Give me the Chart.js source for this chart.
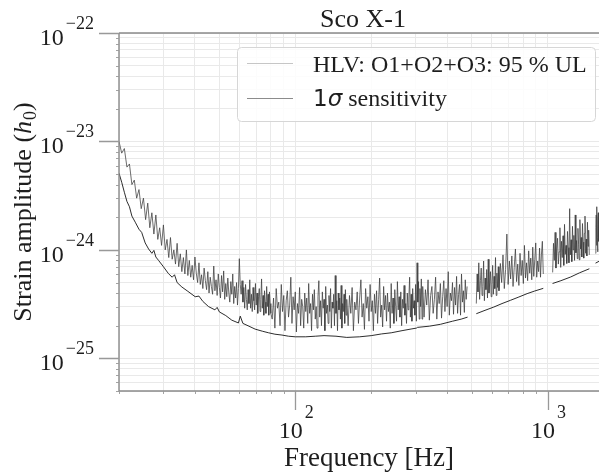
<!DOCTYPE html>
<html><head><meta charset="utf-8">
<script src="https://cdn.jsdelivr.net/npm/chart.js@4.4.1/dist/chart.umd.min.js"></script>
<style>html,body{margin:0;padding:0;background:#fff;overflow:hidden}#wrap{width:599px;height:473px}</style>
</head><body><div id="wrap"><canvas id="c" width="599" height="473"></canvas></div>
<script>
// ---- data ----
const ulFreq = [
 20,20.5,21,21.5,22,22.5,23,23.5,24,24.5,25,25.5,26,26.5,27,27.5,28,28.5,29,29.5,30,30.5,31,31.5,32,32.5,33,33.5,34,34.5,35,35.5,36,36.5,37,37.5,38,38.5,39,39.5,40,
 40.5,41,41.5,42,42.5,43,43.5,44,44.5,45,
 45.5,46,46.5,47,47.5,48,48.5,49,49.5,50,
 50.5,51,51.5,52,52.5,53,53.5,54,54.5,55,
 55.5,56,56.5,57,57.5,58,58.5,59,59.5,60,
 60.5,61,61.5,62,62.5,63,63.5,64,64.5,65,
 65.5,66,66.5,67,67.5,68,68.5,69,69.5,70,
 70.5,71,71.5,72,72.5,73,73.5,74,74.5,75,
 75.5,76,76.5,77,77.5,78,78.5,79,79.5,80,
 81,82,83,84,85,86,87,88,89,90,
 91,92,93,94,95,96,97,98,99,100,
 101,102,103,104,105,106,107,108,109,110,
 111,112,113,114,115,116,117,118,119,120,
 121,122,123,124,125,126,127,128,129,130,
 131,132,133,134,135,136,137,138,139,140,
 141,142,143,144,145,146,147,148,149,150,
 151,152,153,154,155,156,157,158,159,160,
 162,164,166,168,170,172,174,176,178,180,
 182,184,186,188,190,192,194,196,198,200,
 202,204,206,208,210,212,214,216,218,220,
 222,224,226,228,230,232,234,236,238,240,
 242,244,246,248,250,252,254,256,258,260,
 262,264,266,268,270,272,274,276,278,280,
 282,284,286,288,290,292,294,296,298,300,
 302,304,306,308,310,312,314,316,318,320,
 324,328,332,336,340,344,348,352,356,360,
 364,368,372,376,380,384,388,392,396,400,
 404,408,412,416,420,424,428,432,436,440,
 444,448,452,456,460,464,468,472,476,480,
 500,
 522,526,530,534,538,542,546,550,554,558,
 562,566,570,574,578,582,586,590,594,598,
 602,606,610,614,618,622,626,630,634,638,
 642,650,658,666,674,682,690,698,706,714,
 722,730,738,746,754,762,770,778,786,794,
 802,810,818,826,834,842,850,858,866,874,
 882,890,898,906,914,922,930,938,946,954,
 962,
 1000,
 1048,1056,1064,1072,1080,1088,1096,1104,1112,1120,
 1128,1136,1144,1152,1160,1168,1176,1184,1192,1200,
 1208,1216,1224,1232,1240,1248,1256,1264,1272,1280,
 1288,1296,1304,1312,1320,1328,1336,1344,1352,1360,
 1368,1376,1384,1392,1400,1408,1416,1424,1432,1440,
 1448,1456,1464,
 1505,
 1550,1555,1560,1565,1570,1575,1580,1585,1590,1595,1600
];
const ulVal = [
 100e-25,78e-25,86e-25,58e-25,62e-25,40e-25,44e-25,30e-25,36e-25,24e-25,30e-25,19e-25,27e-25,16e-25,22e-25,14e-25,21e-25,12.5e-25,16e-25,11e-25,17e-25,10e-25,12.5e-25,8.5e-25,13e-25,8.2e-25,10e-25,7.4e-25,11.5e-25,7e-25,9.2e-25,6.3e-25,8.5e-25,6e-25,10e-25,5.8e-25,8e-25,5.6e-25,7.2e-25,5.3e-25,8.6e-25,
 6.1e-25,5.0e-25,7.6e-25,4.8e-25,5.9e-25,4.4e-25,6.8e-25,5.2e-25,4.3e-25,6.3e-25,
 4.0e-25,5.6e-25,4.6e-25,3.9e-25,7.1e-25,4.2e-25,5.3e-25,3.8e-25,6.0e-25,4.5e-25,
 3.6e-25,5.8e-25,4.1e-25,6.4e-25,3.5e-25,4.9e-25,3.7e-25,5.5e-25,4.0e-25,3.3e-25,
 5.1e-25,3.9e-25,6.0e-25,3.2e-25,4.6e-25,3.6e-25,5.0e-25,3.1e-25,4.4e-25,8.3e-25,
 4.8e-25,3.9e-25,5.2e-25,3.3e-25,4.5e-25,2.9e-25,4.8e-25,3.5e-25,2.8e-25,4.3e-25,
 3.2e-25,5.3e-25,2.9e-25,3.9e-25,2.7e-25,4.5e-25,3.4e-25,2.8e-25,4.9e-25,3.1e-25,
 4.0e-25,2.6e-25,3.7e-25,4.4e-25,2.7e-25,3.5e-25,5.4e-25,2.9e-25,3.8e-25,2.5e-25,
 4.2e-25,3.3e-25,2.6e-25,4.6e-25,3.0e-25,3.9e-25,2.5e-25,4.1e-25,3.2e-25,2.6e-25,
 2.3e-25,3.6e-25,1.9e-25,4.4e-25,2.9e-25,3.3e-25,2.0e-25,4.8e-25,2.7e-25,3.8e-25,
 1.8e-25,3.4e-25,4.2e-25,2.4e-25,3.1e-25,5.6e-25,2.1e-25,3.7e-25,2.8e-25,4.1e-25,
 1.75e-25,3.2e-25,2.6e-25,4.5e-25,2.0e-25,3.5e-25,3.0e-25,1.9e-25,4.0e-25,2.7e-25,
 3.6e-25,2.1e-25,4.9e-25,2.6e-25,3.2e-25,1.8e-25,3.9e-25,2.8e-25,4.3e-25,2.3e-25,
 3.0e-25,1.9e-25,3.7e-25,5.2e-25,2.4e-25,3.4e-25,2.0e-25,4.1e-25,2.9e-25,3.5e-25,
 1.8e-25,4.6e-25,2.6e-25,3.1e-25,2.1e-25,3.8e-25,2.7e-25,4.4e-25,1.9e-25,3.3e-25,
 2.9e-25,3.9e-25,2.0e-25,5.8e-25,2.6e-25,3.4e-25,1.8e-25,4.0e-25,2.8e-25,3.6e-25,
 2.3e-25,4.7e-25,1.9e-25,3.2e-25,2.7e-25,3.9e-25,2.1e-25,4.3e-25,2.5e-25,3.5e-25,
 2.0e-25,3.8e-25,2.6e-25,4.5e-25,1.8e-25,3.3e-25,2.8e-25,4.1e-25,2.1e-25,3.6e-25,
 5.3e-25,2.4e-25,3.2e-25,1.85e-25,4.4e-25,2.9e-25,3.7e-25,2.2e-25,4.8e-25,2.7e-25,
 3.4e-25,1.8e-25,3.9e-25,2.6e-25,4.2e-25,2.1e-25,3.5e-25,5.5e-25,2.4e-25,3.1e-25,
 1.95e-25,4.6e-25,2.8e-25,3.8e-25,2.2e-25,4.0e-25,2.7e-25,3.3e-25,1.9e-25,4.9e-25,
 2.6e-25,3.6e-25,2.1e-25,4.3e-25,3.0e-25,2.2e-25,5.1e-25,2.8e-25,3.7e-25,2.4e-25,
 4.1e-25,2.0e-25,3.5e-25,2.9e-25,4.7e-25,2.5e-25,3.2e-25,2.1e-25,4.0e-25,2.8e-25,
 3.6e-25,5.6e-25,2.4e-25,3.9e-25,2.2e-25,4.4e-25,2.9e-25,3.4e-25,2.5e-25,4.8e-25,
 2.2e-25,7.6e-25,3.3e-25,5.1e-25,2.3e-25,4.4e-25,3.0e-25,5.4e-25,2.3e-25,4.6e-25,
 2.4e-25,4.3e-25,3.1e-25,5.3e-25,2.25e-25,3.8e-25,4.6e-25,2.6e-25,3.5e-25,5.6e-25,
 2.3e-25,4.1e-25,3.2e-25,4.9e-25,2.35e-25,3.7e-25,5.2e-25,2.7e-25,4.4e-25,3.0e-25,
 6.3e-25,2.5e-25,4.0e-25,3.4e-25,5.0e-25,2.55e-25,4.5e-25,3.1e-25,5.7e-25,2.6e-25,
 3.9e-25,4.8e-25,2.5e-25,6.0e-25,3.3e-25,4.2e-25,2.65e-25,5.3e-25,3.5e-25,4.6e-25,
 null,
 3.2e-25,6.0e-25,4.1e-25,7.6e-25,3.5e-25,5.2e-25,6.8e-25,3.8e-25,4.6e-25,7.9e-25,
 3.4e-25,5.5e-25,4.3e-25,6.6e-25,3.6e-25,8.2e-25,4.0e-25,5.0e-25,6.3e-25,3.7e-25,
 4.8e-25,7.2e-25,3.9e-25,5.7e-25,4.4e-25,8.5e-25,3.8e-25,6.1e-25,4.5e-25,7.0e-25,
 4.2e-25,7.5e-25,5.0e-25,9.0e-25,4.4e-25,6.6e-25,14.0e-25,4.8e-25,7.9e-25,5.4e-25,
 8.8e-25,4.6e-25,6.9e-25,10.2e-25,5.1e-25,7.4e-25,4.7e-25,9.3e-25,5.8e-25,8.0e-25,
 4.9e-25,11.0e-25,5.5e-25,7.6e-25,5.2e-25,9.8e-25,6.1e-25,8.4e-25,5.3e-25,10.6e-25,
 5.7e-25,8.1e-25,11.6e-25,5.6e-25,7.9e-25,6.3e-25,10.4e-25,5.6e-25,9.0e-25,12.0e-25,
 6.0e-25,
 null,
 6.2e-25,11.5e-25,8.0e-25,14.5e-25,6.8e-25,10.2e-25,12.8e-25,7.4e-25,9.6e-25,16.0e-25,
 6.9e-25,12.0e-25,8.5e-25,13.5e-25,7.2e-25,17.2e-25,9.1e-25,11.0e-25,7.5e-25,14.8e-25,
 10.5e-25,7.6e-25,24.0e-25,9.0e-25,12.4e-25,7.8e-25,16.5e-25,10.0e-25,13.6e-25,8.0e-25,
 21.0e-25,9.4e-25,12.2e-25,8.3e-25,15.8e-25,11.3e-25,8.1e-25,19.0e-25,10.2e-25,13.0e-25,
 8.6e-25,17.5e-25,11.8e-25,8.4e-25,14.2e-25,20.5e-25,9.3e-25,12.6e-25,8.8e-25,18.0e-25,
 10.8e-25,15.2e-25,9.0e-25,
 null,
 9.3e-25,16e-25,21e-25,11e-25,25e-25,13e-25,9.6e-25,19e-25,22e-25,12e-25,17e-25
];
const sensFreq = [20,20.5,21,21.5,22,22.5,23.2,24,24.6,25.4,26.2,27,27.5,28,28.7,30,31.4,32.5,33.2,34,35.5,37.5,40.1,41.5,43,45.3,48,49,50,53,56,59.5,60.5,62,65.5,69.3,74,78.4,83,88.5,94,100,110,120,130,145,160,180,200,220,240,265,290,302,305,340,376,420,455,482,500,522,560,612,660,713,770,830,890,962,1000,1047,1130,1234,1340,1465,1505,1550,1600];
const sensVal = [51e-25,42e-25,34e-25,28e-25,25e-25,20.5e-25,18e-25,15.5e-25,14.5e-25,11.6e-25,10.2e-25,9.3e-25,9.9e-25,8.6e-25,8.0e-25,7.0e-25,6.05e-25,5.6e-25,5.9e-25,5.0e-25,4.55e-25,4.15e-25,3.7e-25,3.75e-25,3.35e-25,3.0e-25,2.8e-25,2.95e-25,2.68e-25,2.48e-25,2.25e-25,2.12e-25,2.45e-25,2.1e-25,1.98e-25,1.86e-25,1.78e-25,1.72e-25,1.67e-25,1.64e-25,1.6e-25,1.58e-25,1.58e-25,1.6e-25,1.62e-25,1.6e-25,1.56e-25,1.58e-25,1.62e-25,1.68e-25,1.72e-25,1.8e-25,1.87e-25,1.9e-25,1.93e-25,1.98e-25,2.06e-25,2.2e-25,2.3e-25,2.4e-25,null,2.58e-25,2.75e-25,2.97e-25,3.2e-25,3.43e-25,3.68e-25,3.95e-25,4.18e-25,4.42e-25,null,4.9e-25,5.2e-25,5.62e-25,6.15e-25,6.7e-25,null,7.55e-25,7.85e-25];

const seriesLabels = ['HLV: O1+O2+O3: 95 % UL', '1\u03c3 sensitivity'];
const titleText = 'Sco X-1';
const xTitle = 'Frequency [Hz]';
const yTitle = ['Strain amplitude (', 'h', '0', ')'];
const xMajor = [100, 1000];
const xMajorExp = ['2', '3'];
const xMinor = [20,30,40,50,60,70,80,90,200,300,400,500,600,700,800,900];
const yMajor = [1e-25, 1e-24, 1e-23, 1e-22];
const yMajorExp = ['\u221225', '\u221224', '\u221223', '\u221222'];
const yMinor = [5e-26,6e-26,7e-26,8e-26,9e-26,2e-25,3e-25,4e-25,5e-25,6e-25,7e-25,8e-25,9e-25,2e-24,3e-24,4e-24,5e-24,6e-24,7e-24,8e-24,9e-24,2e-23,3e-23,4e-23,5e-23,6e-23,7e-23,8e-23,9e-23];

// ---- style ----
const SERIF = '"Liberation Serif", "DejaVu Serif", serif';
const SANS = '"DejaVu Sans", sans-serif';
const TXT = '#1e1e1e';
const AXIS = '#8a8a8a';
const GRID = '#e9e9e9';
const legendColors = ['#c6c6c6', '#8c8c8c'];

function pts(fs, vs) { return fs.map((f, i) => ({x: f, y: vs[i]})); }

function powLabel(ctx, exp, x, py, align, baseOff, expOff) {
  ctx.font = '24px ' + SERIF;
  const w1 = ctx.measureText('10').width;
  ctx.font = '18px ' + SERIF;
  const w2 = ctx.measureText(exp).width;
  const total = w1 + w2 + 2;
  let x0 = align === 'right' ? x - total : x - total / 2;
  ctx.textAlign = 'left';
  ctx.font = '24px ' + SERIF;
  ctx.fillText('10', x0, py + baseOff);
  ctx.font = '18px ' + SERIF;
  ctx.fillText(exp, x0 + w1 + 2, py + expOff);
}

const deco = {
  id: 'deco',
  afterDraw(chart) {
    const {ctx, chartArea: a, scales: {x, y}} = chart;
    ctx.save();
    // frame
    ctx.strokeStyle = AXIS; ctx.lineWidth = 1.4;
    ctx.beginPath();
    ctx.moveTo(a.left, a.top); ctx.lineTo(a.right, a.top);
    ctx.moveTo(a.left, a.top); ctx.lineTo(a.left, a.bottom); ctx.lineTo(a.right, a.bottom);
    ctx.stroke();
    // ticks
    ctx.strokeStyle = '#999'; ctx.lineWidth = 1.3;
    ctx.beginPath();
    yMajor.forEach(v => { const p = Math.round(y.getPixelForValue(v)) + 0.5; ctx.moveTo(a.left - 20, p); ctx.lineTo(a.left, p); });
    xMajor.forEach(v => { const p = Math.round(x.getPixelForValue(v)) + 0.5; ctx.moveTo(p, a.bottom); ctx.lineTo(p, a.bottom + 19); });
    ctx.stroke();
    ctx.lineWidth = 0.9;
    ctx.beginPath();
    yMinor.forEach(v => { const p = Math.round(y.getPixelForValue(v)) + 0.5; ctx.moveTo(a.left - 3, p); ctx.lineTo(a.left, p); });
    xMinor.forEach(v => { const p = Math.round(x.getPixelForValue(v)) + 0.5; ctx.moveTo(p, a.bottom); ctx.lineTo(p, a.bottom + 3); });
    ctx.stroke();
    // tick labels
    ctx.fillStyle = TXT; ctx.textBaseline = 'alphabetic';
    yMajor.forEach((v, i) => powLabel(ctx, yMajorExp[i], a.left - 25, y.getPixelForValue(v), 'right', 12, -4));
    xMajor.forEach((v, i) => powLabel(ctx, xMajorExp[i], x.getPixelForValue(v) + 1, a.bottom, 'center', 47, 27));
    // title
    ctx.font = '26px ' + SERIF; ctx.textAlign = 'center';
    ctx.fillText(titleText, 363, 27);
    // x title
    ctx.font = '27px ' + SERIF;
    ctx.fillText(xTitle, 369, 466);
    // y title (rotated)
    ctx.save();
    ctx.translate(31, 212); ctx.rotate(-Math.PI / 2);
    ctx.textAlign = 'left';
    const fR = '26px ' + SERIF, fI = 'italic 26px ' + SERIF, fS = '18px ' + SERIF;
    ctx.font = fR; const w0 = ctx.measureText(yTitle[0]).width;
    ctx.font = fI; const w1 = ctx.measureText(yTitle[1]).width;
    ctx.font = fS; const w2 = ctx.measureText(yTitle[2]).width;
    ctx.font = fR; const w3 = ctx.measureText(yTitle[3]).width;
    let cx = -(w0 + w1 + w2 + w3 + 1) / 2;
    ctx.font = fR; ctx.fillText(yTitle[0], cx, 0); cx += w0;
    ctx.font = fI; ctx.fillText(yTitle[1], cx, 0); cx += w1 + 1;
    ctx.font = fS; ctx.fillText(yTitle[2], cx, 5); cx += w2;
    ctx.font = fR; ctx.fillText(yTitle[3], cx, 0);
    ctx.restore();
    // legend
    const bx = 237.5, by = 47.5, bw = 358, bh = 74, r = 4;
    ctx.beginPath();
    ctx.moveTo(bx + r, by); ctx.lineTo(bx + bw - r, by); ctx.arcTo(bx + bw, by, bx + bw, by + r, r);
    ctx.lineTo(bx + bw, by + bh - r); ctx.arcTo(bx + bw, by + bh, bx + bw - r, by + bh, r);
    ctx.lineTo(bx + r, by + bh); ctx.arcTo(bx, by + bh, bx, by + bh - r, r);
    ctx.lineTo(bx, by + r); ctx.arcTo(bx, by, bx + r, by, r); ctx.closePath();
    ctx.fillStyle = 'rgba(255,255,255,0.85)'; ctx.fill();
    ctx.strokeStyle = '#d6d6d6'; ctx.lineWidth = 1; ctx.stroke();
    ctx.lineWidth = 1.2;
    ctx.strokeStyle = legendColors[0]; ctx.beginPath(); ctx.moveTo(247, 63.5); ctx.lineTo(293, 63.5); ctx.stroke();
    ctx.strokeStyle = legendColors[1]; ctx.beginPath(); ctx.moveTo(247, 98.5); ctx.lineTo(293, 98.5); ctx.stroke();
    ctx.fillStyle = TXT; ctx.textAlign = 'left';
    ctx.font = '24px ' + SERIF; ctx.fillText(seriesLabels[0], 313, 72);
    const lab = seriesLabels[1];
    ctx.font = '23px ' + SANS; ctx.fillText(lab[0], 313, 106);
    const wa = ctx.measureText(lab[0]).width;
    ctx.font = 'italic 23px ' + SANS; ctx.fillText(lab[1], 313 + wa, 106);
    const wb = ctx.measureText(lab[1]).width;
    ctx.font = '24px ' + SERIF; ctx.fillText(lab.slice(2), 313 + wa + wb, 106);
    ctx.restore();
  }
};

const gridTicks = (majors, minors) => s => {
  s.ticks = minors.concat(majors).sort((p, q) => p - q).map(v => ({value: v, major: majors.includes(v)}));
};

new Chart(document.getElementById('c'), {
  type: 'line',
  data: {
    datasets: [
      {label: seriesLabels[0], data: pts(ulFreq, ulVal), borderColor: 'rgba(60,60,60,0.75)', borderWidth: 1.0, pointRadius: 0, tension: 0, spanGaps: false, order: 2},
      {label: seriesLabels[1], data: pts(sensFreq, sensVal), borderColor: '#151515', borderWidth: 0.9, pointRadius: 0, tension: 0, spanGaps: false, order: 1}
    ]
  },
  options: {
    responsive: false,
    animation: false,
    layout: {padding: {left: 119, top: 33, right: 0, bottom: 82}},
    plugins: {legend: {display: false}, tooltip: {enabled: false}},
    scales: {
      x: {type: 'logarithmic', min: 20, max: 1600,
          ticks: {display: false}, border: {display: false},
          grid: {color: GRID, lineWidth: 1, drawTicks: false},
          afterBuildTicks: gridTicks(xMajor, xMinor),
          afterFit: s => { s.height = 0; }},
      y: {type: 'logarithmic', min: 5e-26, max: 1e-22,
          ticks: {display: false}, border: {display: false},
          grid: {color: GRID, lineWidth: 1, drawTicks: false},
          afterBuildTicks: gridTicks(yMajor, yMinor),
          afterFit: s => { s.width = 0; }}
    }
  },
  plugins: [deco]
});
</script></body></html>
